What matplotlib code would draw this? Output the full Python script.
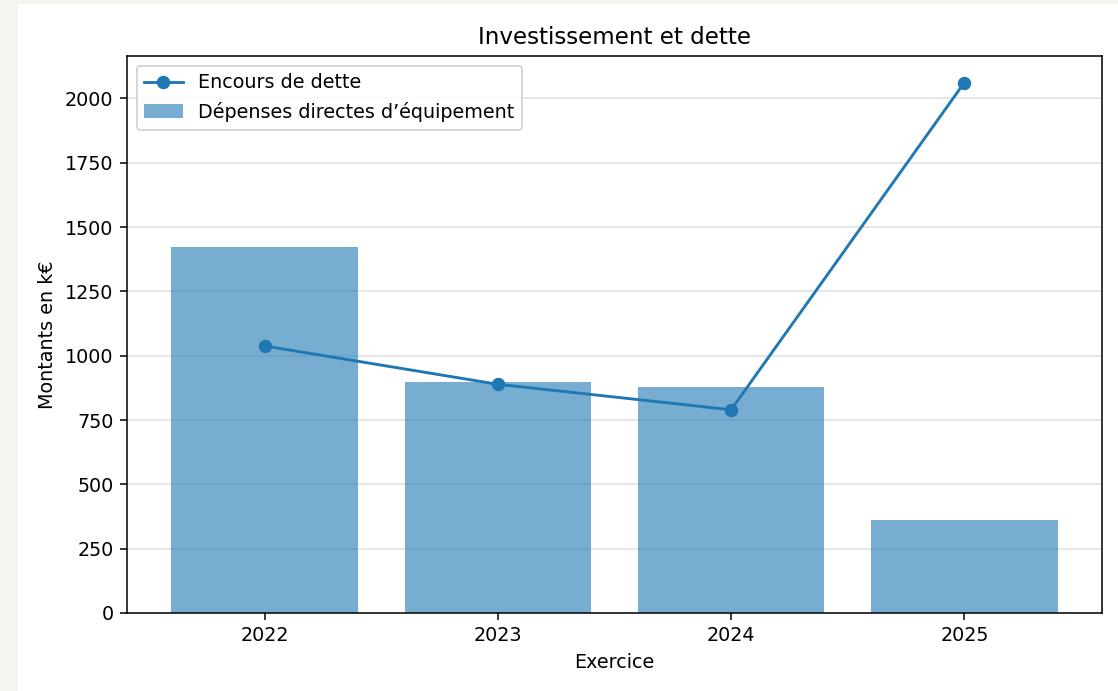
import numpy as np
import matplotlib.pyplot as plt
from matplotlib.patches import Rectangle

annees = ['2022', '2023', '2024', '2025']
depenses = [1421, 898, 878, 362]
dette = [1038, 889, 790, 2062]

dpi = 138
fig = plt.figure(figsize=(1119 / dpi, 691 / dpi), dpi=dpi, facecolor='#f5f4ef')
# fond blanc de la figure (page beige autour)
fig.patches.append(Rectangle((18 / 1119, 0), 1 - 18 / 1119, 687 / 691,
                             transform=fig.transFigure, facecolor='white',
                             edgecolor='none', zorder=-10))

ax = fig.add_axes([127 / 1119, 78 / 691, 975 / 1119, 557 / 691])
x = np.arange(len(annees))
ax.bar(x, depenses, width=0.8, color='#1f77b4', alpha=0.6,
       label='Dépenses directes d’équipement')
ax.plot(x, dette, marker='o', color='#1f77b4', linewidth=1.5,
        label='Encours de dette')

ax.set_xticks(x)
ax.set_xticklabels(annees)
ax.set_yticks(np.arange(0, 2001, 250))
ax.grid(axis='y', color='#cccccc', alpha=0.6)
ax.set_axisbelow(True)
ax.set_title('Investissement et dette', fontsize=12)
ax.set_xlabel('Exercice')
ax.set_ylabel('Montants en k€')
ax.legend(loc='upper left')

fig.savefig('out.png', dpi=dpi, facecolor=fig.get_facecolor())
